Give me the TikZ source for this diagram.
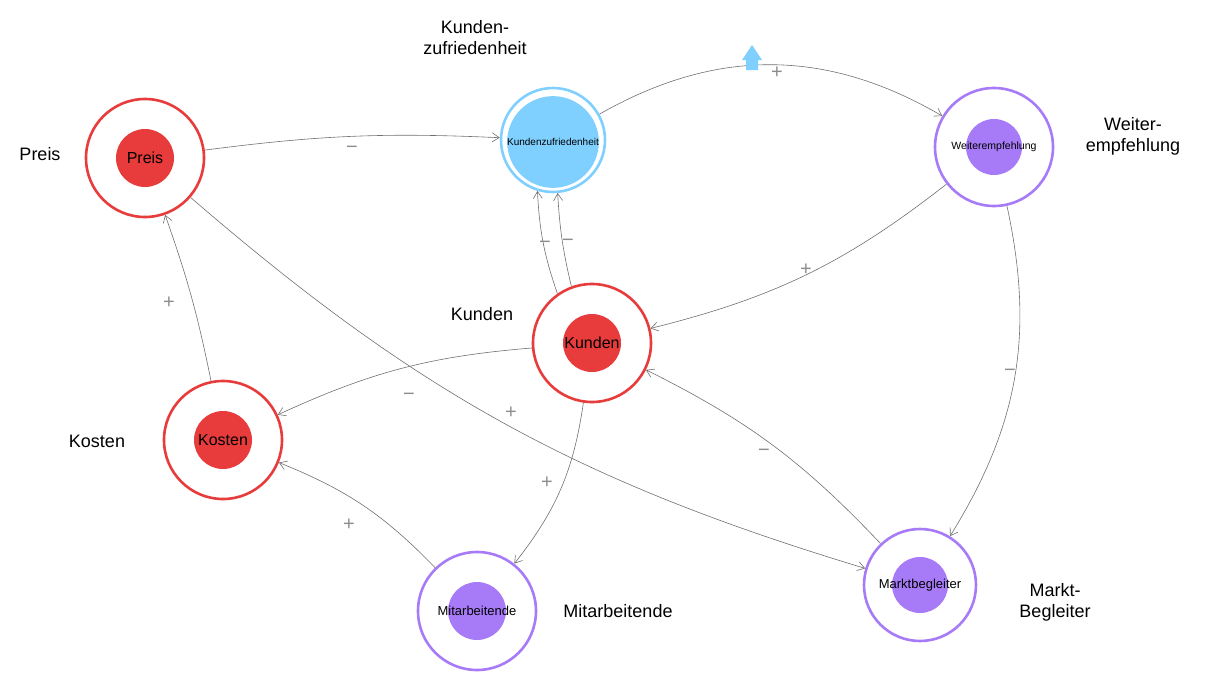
\documentclass[tikz,border=0pt]{standalone}
\usepackage{fontspec}
\setmainfont{Liberation Sans}
\usetikzlibrary{arrows.meta}
\definecolor{cred}{HTML}{E83B3B}
\definecolor{cblue}{HTML}{7FD0FF}
\definecolor{cpurp}{HTML}{A77BF7}
\definecolor{cgray}{HTML}{707070}
\begin{document}
\begin{tikzpicture}[x=1pt,y=1pt,
  ring/.style={circle,draw=#1,line width=2.6pt,minimum size=118pt,inner sep=0pt,fill=white},
  core/.style={circle,fill=#1,minimum size=58pt,inner sep=0pt},
  lbl/.style={font=\fontsize{18}{21}\selectfont,align=center},
  sgn/.style={font=\fontsize{20}{20}\selectfont,text=cgray!80},
  conn/.style={draw=cgray,line width=0.6pt,-{Straight Barb[length=7pt,width=9pt]}}]
\useasboundingbox (0,0) rectangle (1211,-686);
% nodes
\node[ring=cred] (p) at (145,-158) {};
\node[core=cred,font=\fontsize{16}{16}\selectfont] at (145,-158) {Preis};
\node[ring=cblue,minimum size=104pt] (kz) at (553,-140) {};
\node[core=cblue,minimum size=88pt,font=\fontsize{10}{10}\selectfont] at (553,-142) {Kundenzufriedenheit};
\node[ring=cpurp] (we) at (994,-147) {};
\node[core=cpurp,minimum size=56pt] at (994,-147) {};
\node[font=\fontsize{10.5}{10.5}\selectfont] at (994,-147) {Weiterempfehlung};
\node[ring=cred] (ku) at (592,-343) {};
\node[core=cred,font=\fontsize{16}{16}\selectfont] at (592,-343) {Kunden};
\node[ring=cred] (ko) at (223,-440) {};
\node[core=cred,font=\fontsize{16}{16}\selectfont] at (223,-440) {Kosten};
\node[ring=cpurp] (mi) at (477,-611) {};
\node[core=cpurp] at (477,-611) {};
\node[font=\fontsize{13}{13}\selectfont] at (477,-611) {Mitarbeitende};
\node[ring=cpurp,minimum size=112pt] (mb) at (920,-585) {};
\node[core=cpurp,minimum size=56pt] at (920,-585) {};
\node[font=\fontsize{13}{13}\selectfont] at (920,-585) {Marktbegleiter};
% labels
\node[lbl] (lp) at (40,-154) {Preis};
\node[lbl] (lkz) at (475,-38) {Kunden-\\zufriedenheit};
\node[lbl] (lwe) at (1133,-136) {Weiter-\\empfehlung};
\node[lbl] (lku) at (482,-314) {Kunden};
\node[lbl] (lko) at (97,-441) {Kosten};
\node[lbl] (lmi) at (618,-611) {Mitarbeitende};
\node[lbl] (lmb) at (1055,-602) {Markt-\\Begleiter};
% connectors
\draw[conn] (p) to[bend left=5] (kz);
\draw[conn] (kz) to[bend left=30] (we);
\draw[conn] (we) to[bend left=12] (ku);
\draw[conn] (we) to[bend left=22] (mb);
\draw[conn] (ku.125) to[bend left=8] (kz.-107);
\draw[conn] (ku.110) to[bend left=5] (kz.-85);
\draw[conn] (ku) to[bend right=10] (ko);
\draw[conn] (p) to[bend right=12] (mb);
\draw[conn] (ku) to[bend left=15] (mi);
\draw[conn] (mb) to[bend right=10] (ku);
\draw[conn] (mi) to[bend right=12] (ko);
\draw[conn] (ko) to[bend right=4] (p);
% signs
\node[sgn] (s1) at (352,-150) {−};
\node[sgn] (s2) at (777,-73) {+};
\node[sgn] (s3) at (806,-270) {+};
\node[sgn] (s4) at (1010,-373) {−};
\node[sgn] (s5) at (545,-245) {−};
\node[sgn] (s6) at (568,-243) {−};
\node[sgn] (s7) at (409,-397) {−};
\node[sgn] (s8) at (511,-413) {+};
\node[sgn] (s9) at (547,-483) {+};
\node[sgn] (s10) at (764,-453) {−};
\node[sgn] (s11) at (349,-525) {+};
\node[sgn] (s12) at (169,-303) {+};
% up arrow icon
\fill[cblue] (746,-70) -- (746,-60) -- (742,-60) -- (752,-45) -- (762,-60) -- (758,-60) -- (758,-70) -- cycle;
\end{tikzpicture}
\end{document}
